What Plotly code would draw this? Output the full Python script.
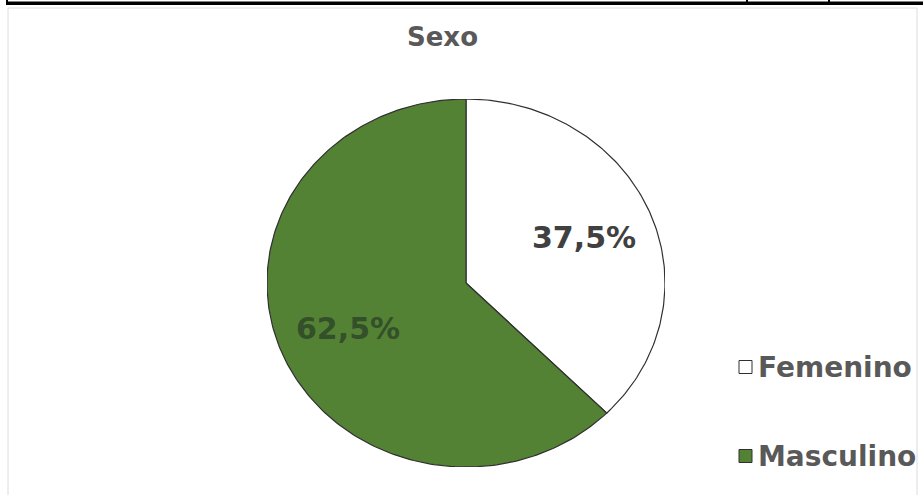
import math
import numpy as np
import plotly.graph_objects as go

W, H = 923, 495

title = "Sexo"
labels = ["Femenino", "Masculino"]
values = [37.5, 62.5]
slice_colors = ["#ffffff", "#548235"]
label_colors = ["#404040", "#34502a"]

FONT = "DejaVu Sans"

# plot box (pixels) holding the pie, slightly wider than tall
left, right, top, bottom = 267, 665, 99, 467


def px(x):
    return x / W


def py(y):
    return 1 - y / H


fig = go.Figure()

annotations = []
shapes = []

# slices drawn as filled wedges in unit coordinates, clockwise from 12 o'clock
total = sum(values)
start = 0.0
for lab, v, fill, tcol in zip(labels, values, slice_colors, label_colors):
    frac = v / total
    a0, a1 = start * 2 * math.pi, (start + frac) * 2 * math.pi
    n = max(int(frac * 360), 2)
    ang = np.linspace(a0, a1, n)
    xs = np.concatenate([[0.0], np.sin(ang), [0.0]])
    ys = np.concatenate([[0.0], np.cos(ang), [0.0]])
    fig.add_trace(go.Scatter(
        x=xs, y=ys, mode="lines", fill="toself", fillcolor=fill,
        line=dict(color="#303030", width=1.2), name=lab,
        hoverinfo="text", hoveron="fills",
        text=f"{lab}: {frac * 100:.1f}%".replace(".", ","),
        showlegend=False,
    ))
    mid = (a0 + a1) / 2
    rr = 0.64
    annotations.append(dict(
        x=rr * math.sin(mid), y=rr * math.cos(mid), xref="x", yref="y",
        text=f"{frac * 100:.1f}".replace(".", ",") + "%", showarrow=False,
        xanchor="center", yanchor="middle",
        font=dict(family=FONT, size=30, color=tcol, weight="bold"),
    ))
    start += frac

# title
annotations.append(dict(
    x=px(442), y=py(37), xref="paper", yref="paper", text=title, showarrow=False,
    xanchor="center", yanchor="middle",
    font=dict(family=FONT, size=26, color="#595959", weight="bold"),
))

# legend drawn as swatches + text
legend_y = [367, 456]
for lab, col, ly in zip(labels, slice_colors, legend_y):
    shapes.append(dict(
        type="rect", xref="paper", yref="paper",
        x0=px(739), x1=px(752), y0=py(ly + 6.5), y1=py(ly - 6.5),
        fillcolor=col, line=dict(color="#303030", width=1),
    ))
    annotations.append(dict(
        x=px(756), y=py(ly), xref="paper", yref="paper", text=lab, showarrow=False,
        xanchor="left", yanchor="middle",
        font=dict(family=FONT, size=28, color="#595959", weight="bold"),
    ))

# chart area outline
shapes.append(dict(
    type="rect", xref="paper", yref="paper",
    x0=px(8), x1=px(917), y0=py(500), y1=py(8),
    line=dict(color="#dcdcdc", width=1), fillcolor="rgba(0,0,0,0)", layer="below",
))

# table rule across the top with cell dividers
shapes.append(dict(
    type="rect", xref="paper", yref="paper",
    x0=px(6), x1=px(923), y0=py(5), y1=py(1.5),
    fillcolor="#000000", line=dict(width=0),
))
for xv in [6, 746, 828]:
    shapes.append(dict(
        type="rect", xref="paper", yref="paper",
        x0=px(xv), x1=px(xv + 2), y0=py(5), y1=py(0),
        fillcolor="#000000", line=dict(width=0),
    ))

axis_common = dict(visible=False, showgrid=False, zeroline=False, fixedrange=True)
fig.update_layout(
    width=W, height=H,
    margin=dict(l=0, r=0, t=0, b=0),
    paper_bgcolor="#ffffff",
    plot_bgcolor="rgba(0,0,0,0)",
    xaxis=dict(domain=[px(left), px(right)], range=[-1, 1], **axis_common),
    yaxis=dict(domain=[py(bottom), py(top)], range=[-1, 1], **axis_common),
    annotations=annotations,
    shapes=shapes,
    showlegend=False,
)

fig.write_html("out.html")
